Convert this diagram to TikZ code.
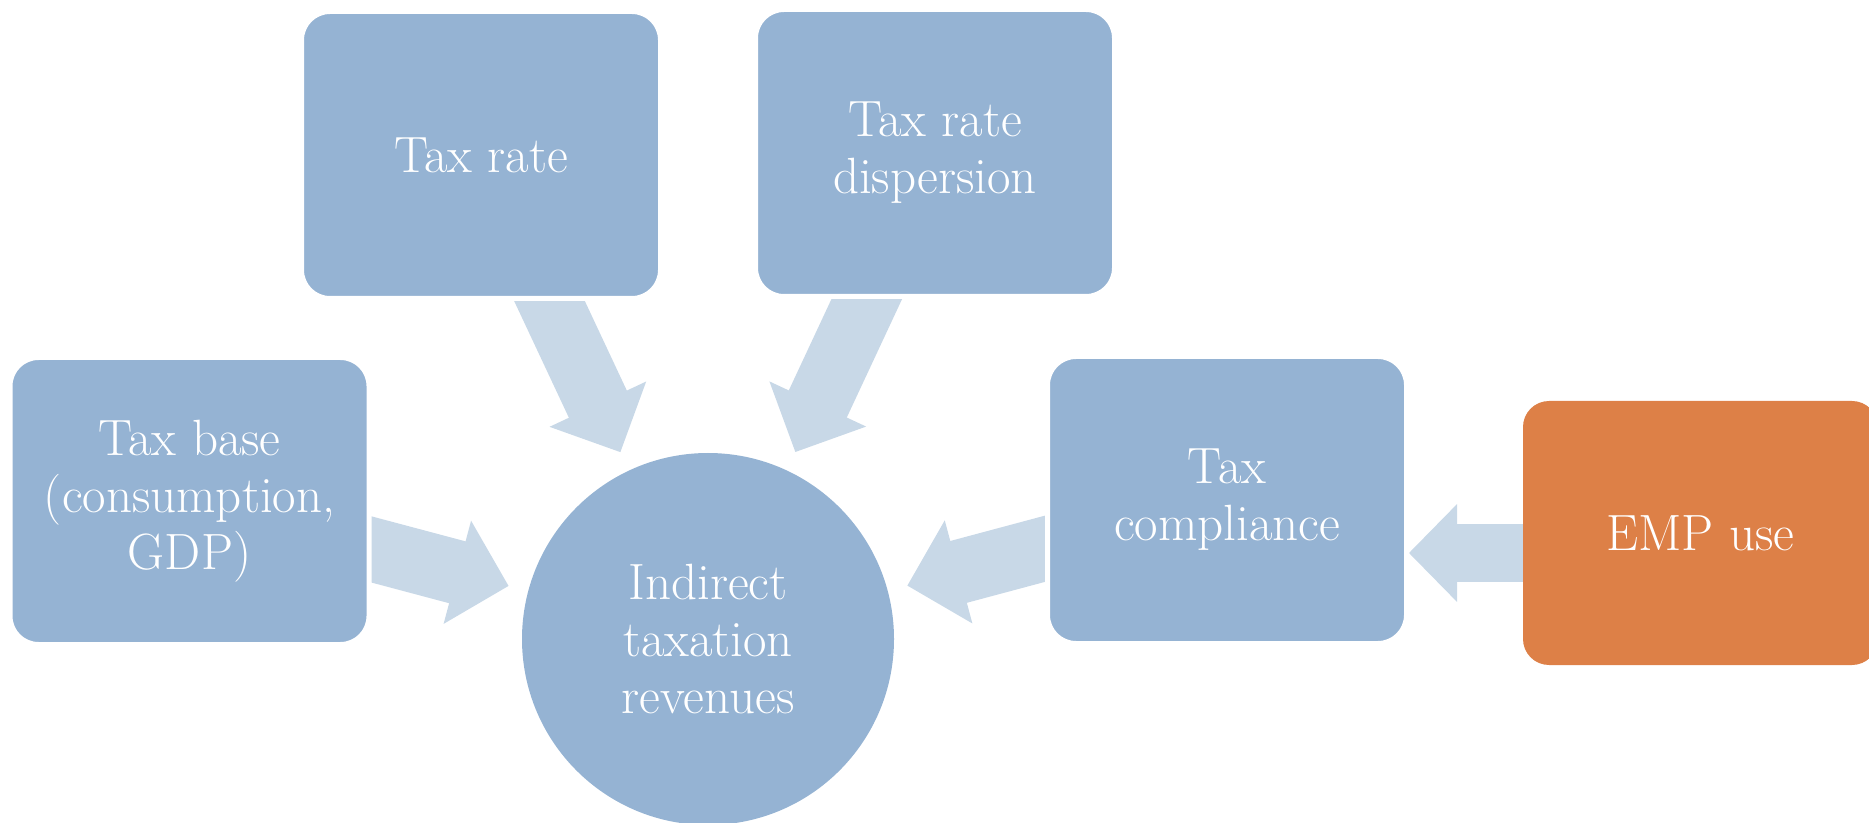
\documentclass[tikz,border=0pt]{standalone}
\usetikzlibrary{arrows.meta, shapes}
\definecolor{boxblue}{HTML}{95B3D3}
\definecolor{arrowblue}{HTML}{C8D8E7}
\definecolor{emporange}{HTML}{DD8047}
\pgfdeclarelayer{background}
\pgfsetlayers{background,main}
\tikzset{x=0.5pt, y=-0.5pt,
    factor/.style={rectangle, rounded corners=14.25pt, fill=boxblue, draw=white, line width=2.5pt,
        minimum width=179.5pt, minimum height=143.5pt, text=white, align=center,
        font=\fontsize{25.5}{28.5}\selectfont},
    hub/.style={circle, fill=boxblue, minimum size=186pt, text=white, align=center,
        font=\fontsize{25.5}{28.5}\selectfont},
    fat/.style={arrowblue, line width=32pt, shorten >=10pt,
        -{Triangle[width=53pt, length=26.5pt, line width=2pt]}}}

\begin{document}
\begin{tikzpicture}
    \useasboundingbox (0,0) rectangle (1869,823);
    \node[factor] (rate) at (481,155) {Tax rate};
    \node[factor] (disp) at (935,153) {Tax rate\\dispersion};
    \node[factor] (base) at (189.5,501) {Tax base\\(consumption,\\GDP)};
    \node[factor] (comp) at (1227,500) {Tax\\compliance};
    \node[factor, fill=emporange, draw=none, rounded corners=13pt, minimum width=177.5pt,
        minimum height=132pt] (emp) at (1700.5,533) {EMP use};
    \node[hub] (rev) at (708,639) {Indirect\\taxation\\revenues};
    % block arrows sit under the boxes
    \begin{pgfonlayer}{background}
        \foreach \src in {rate, disp, base, comp}
            \draw[fat] (\src.center) -- (rev);
        \draw[fat, line width=29pt, shorten >=0pt,
            -{Triangle[width=48.5pt, length=24pt, line width=2pt]}]
            ([yshift=-10pt]emp.center) -- ([yshift=-10pt]emp.center -| comp.east);
    \end{pgfonlayer}
\end{tikzpicture}
\end{document}
